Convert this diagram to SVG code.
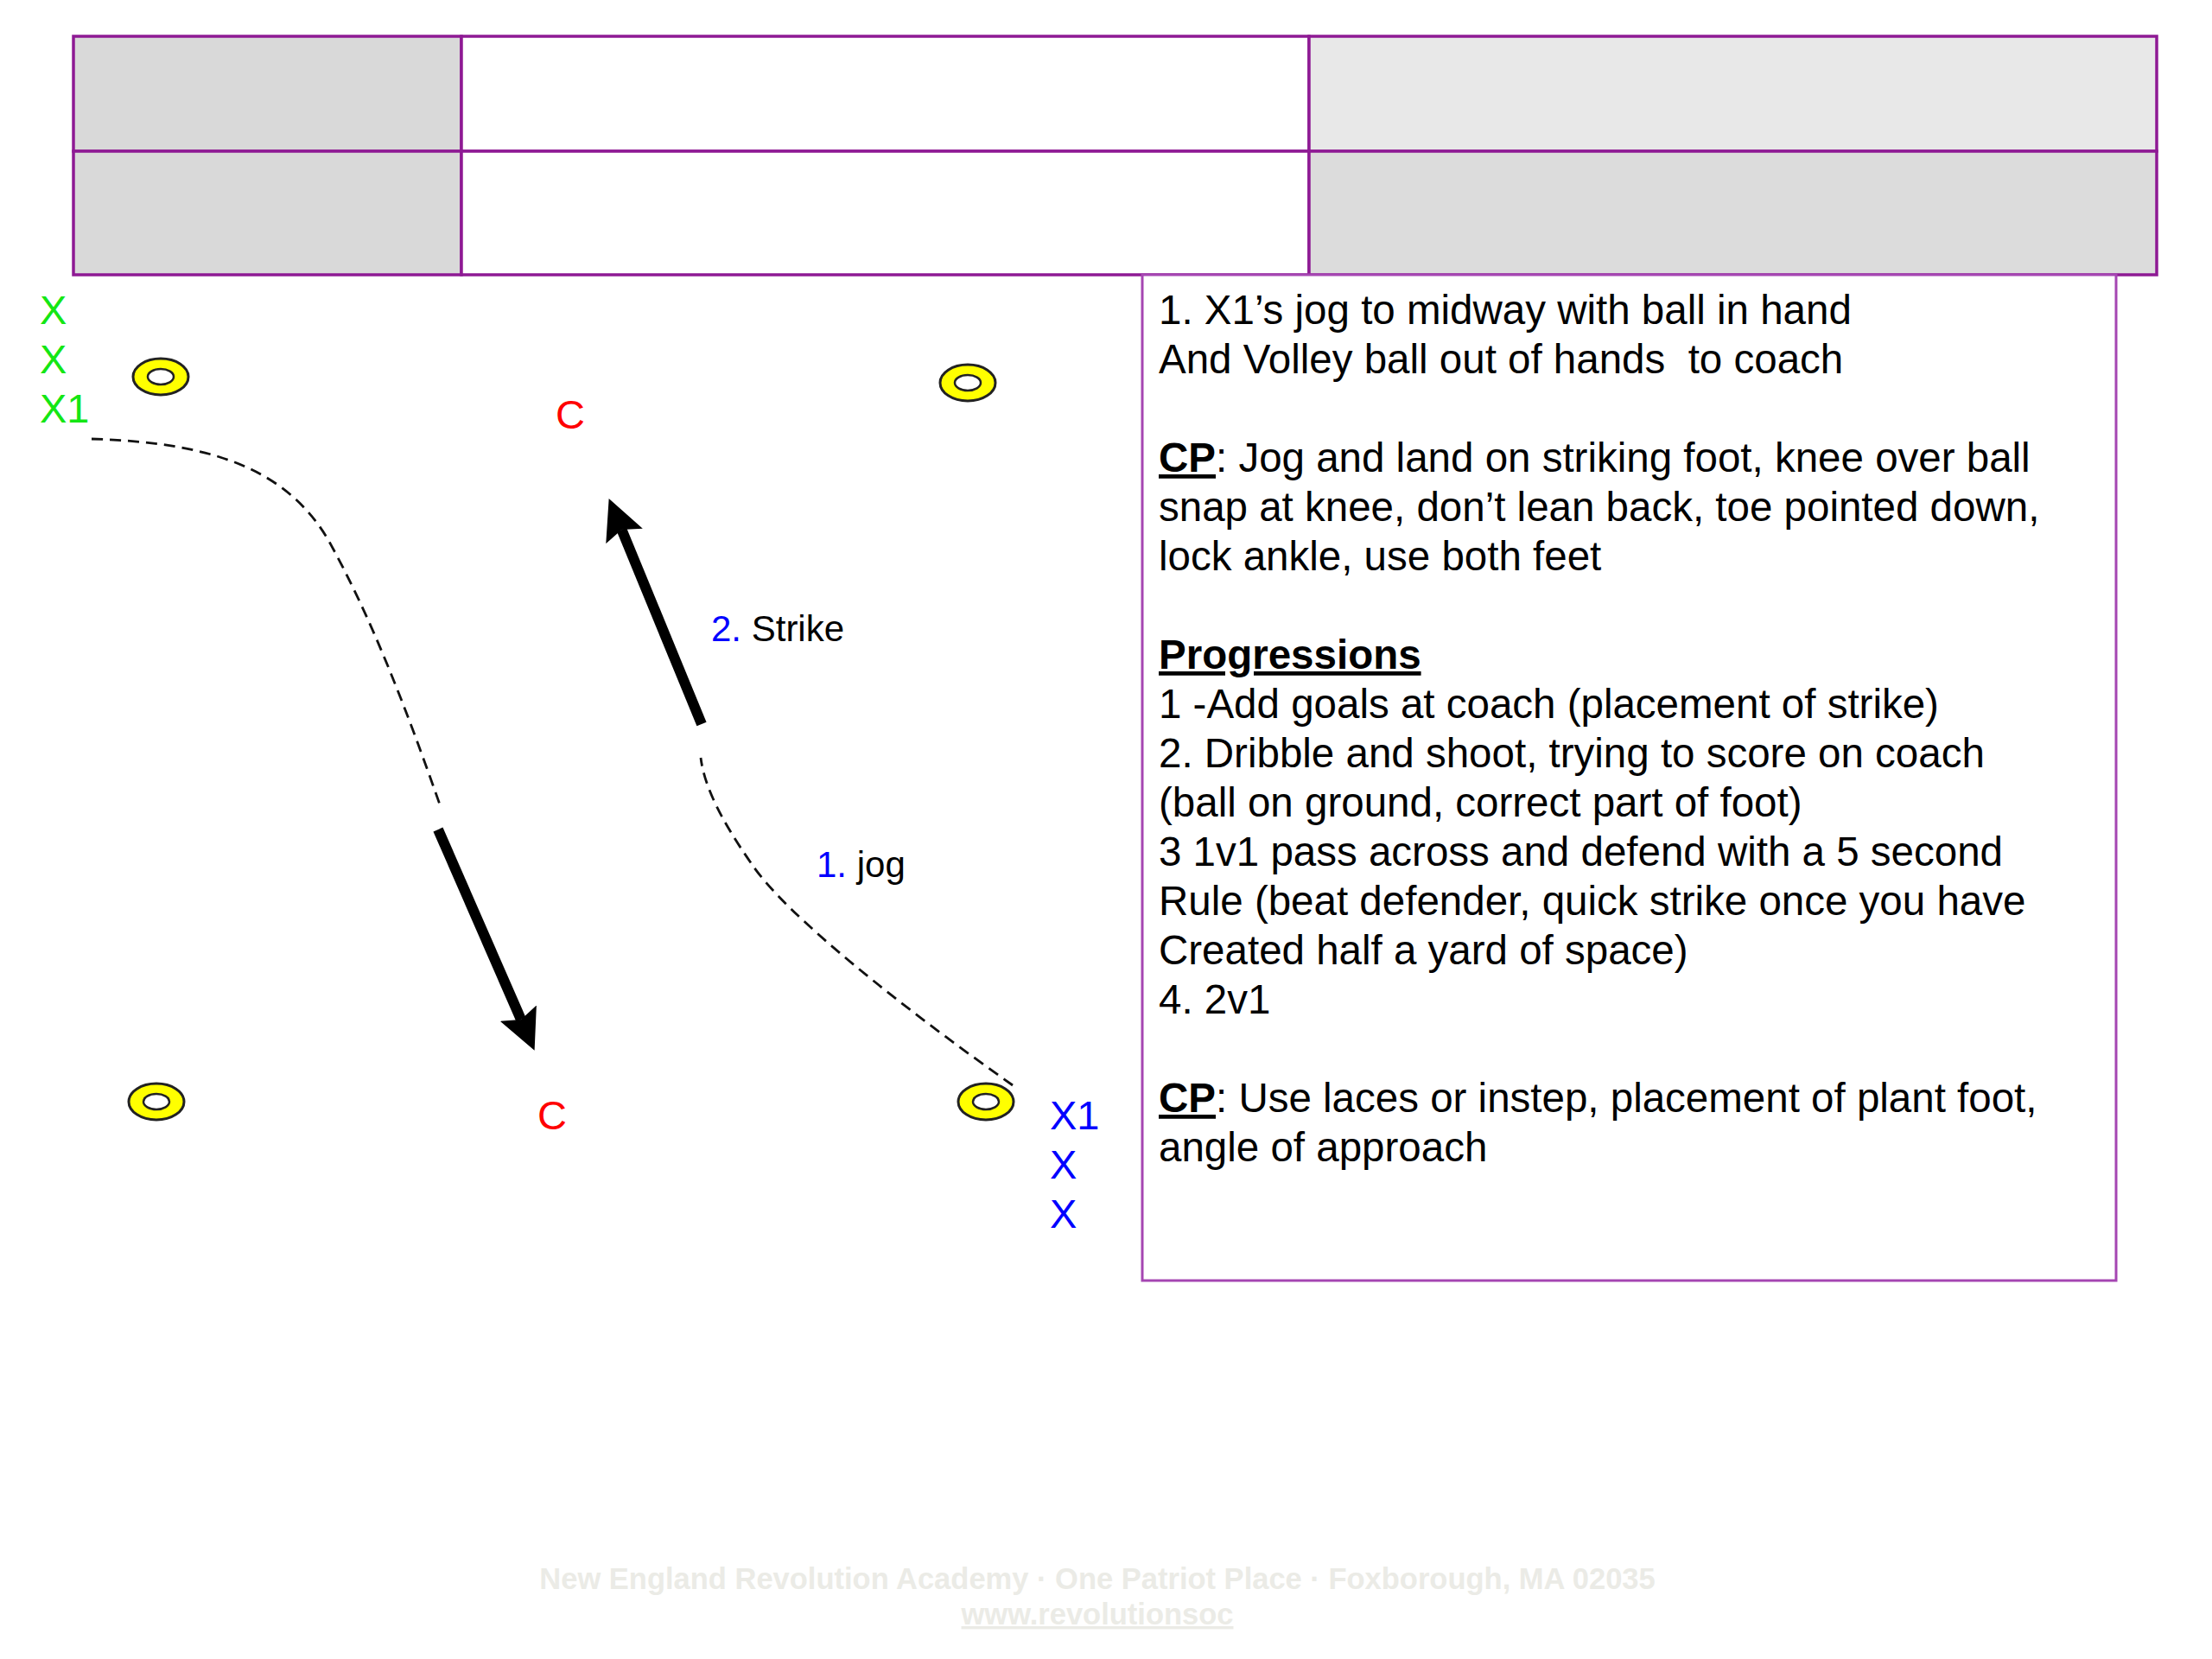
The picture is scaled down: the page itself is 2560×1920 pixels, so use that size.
<svg xmlns="http://www.w3.org/2000/svg" width="2560" height="1920" viewBox="0 0 2560 1920">
<style>
text{font-family:"Liberation Sans",Arial,Helvetica,sans-serif}
.cell{stroke:#8e1a94;stroke-width:3.5}
.body{font-size:47.5px;fill:#000}
.b{font-weight:bold;text-decoration:underline}
.pl{font-size:47px}
.green{fill:#14e614}
.blue{fill:#0000ff}
.red{fill:#ff0000}
.lbl{font-size:42px;fill:#000}
.cone{fill:#ffff00;stroke:#222;stroke-width:3}
.hole{fill:#fff;stroke:#222;stroke-width:2.5}
.dash{fill:none;stroke:#111;stroke-width:2.8;stroke-dasharray:13 8}
.thick{fill:none;stroke:#000;stroke-width:12;marker-end:url(#ah)}
.foot{font-size:34.5px;font-weight:bold;fill:#ebebe6}
</style>
<defs>
<marker id="ah" markerUnits="userSpaceOnUse" markerWidth="48" markerHeight="46" refX="8" refY="23" orient="auto">
<path d="M0,0 L47,23 L0,46 L8,23 z" fill="#000"/>
</marker>
</defs>
<rect width="2560" height="1920" fill="#fff"/>

<g id="header-table">
<rect class="cell" x="85" y="42" width="449" height="133" fill="#d9d9d9"/>
<rect class="cell" x="534" y="42" width="981" height="133" fill="#fff"/>
<rect class="cell" x="1515" y="42" width="981" height="133" fill="#e8e8e8"/>
<rect class="cell" x="85" y="175" width="449" height="143" fill="#d9d9d9"/>
<rect class="cell" x="534" y="175" width="981" height="143" fill="#fff"/>
<rect class="cell" x="1515" y="175" width="981" height="143" fill="#dcdcdc"/>
</g>

<g id="notes">
<rect x="1322" y="318" width="1127" height="1164" fill="#fff" stroke="#a546b2" stroke-width="3"/>
<text class="body" x="1341" y="375">1. X1’s jog to midway with ball in hand</text>
<text class="body" x="1341" y="432" xml:space="preserve">And Volley ball out of hands  to coach</text>
<text class="body" x="1341" y="546"><tspan class="b">CP</tspan>: Jog and land on striking foot, knee over ball</text>
<text class="body" x="1341" y="603">snap at knee, don’t lean back, toe pointed down,</text>
<text class="body" x="1341" y="660">lock ankle, use both feet</text>
<text class="body" x="1341" y="774"><tspan class="b">Progressions</tspan></text>
<text class="body" x="1341" y="831">1 -Add goals at coach (placement of strike)</text>
<text class="body" x="1341" y="888">2. Dribble and shoot, trying to score on coach</text>
<text class="body" x="1341" y="945">(ball on ground, correct part of foot)</text>
<text class="body" x="1341" y="1002">3 1v1 pass across and defend with a 5 second</text>
<text class="body" x="1341" y="1059">Rule (beat defender, quick strike once you have</text>
<text class="body" x="1341" y="1116">Created half a yard of space)</text>
<text class="body" x="1341" y="1173">4. 2v1</text>
<text class="body" x="1341" y="1287"><tspan class="b">CP</tspan>: Use laces or instep, placement of plant foot,</text>
<text class="body" x="1341" y="1344">angle of approach</text>
</g>

<g id="cones">
<g id="cone-tl"><ellipse class="cone" cx="186" cy="436" rx="32" ry="21"/><ellipse class="hole" cx="186" cy="436" rx="15" ry="9"/></g>
<g id="cone-tr"><ellipse class="cone" cx="1120" cy="443" rx="32" ry="21"/><ellipse class="hole" cx="1120" cy="443" rx="15" ry="9"/></g>
<g id="cone-bl"><ellipse class="cone" cx="181" cy="1275" rx="32" ry="21"/><ellipse class="hole" cx="181" cy="1275" rx="15" ry="9"/></g>
<g id="cone-br"><ellipse class="cone" cx="1141" cy="1275" rx="32" ry="21"/><ellipse class="hole" cx="1141" cy="1275" rx="15" ry="9"/></g>
</g>

<g id="players-green">
<text class="pl green" x="46" y="375">X</text>
<text class="pl green" x="46" y="432">X</text>
<text class="pl green" x="46" y="489">X1</text>
</g>
<g id="players-blue">
<text class="pl blue" x="1215" y="1307">X1</text>
<text class="pl blue" x="1215" y="1364">X</text>
<text class="pl blue" x="1215" y="1421">X</text>
</g>
<g id="coach-top"><text class="pl red" x="643" y="496">C</text></g>
<g id="coach-bottom"><text class="pl red" x="622" y="1307">C</text></g>

<g id="connectors">
<path class="dash" d="M106,508 C240,512 330,540 380,625 C430,715 470,820 510,934"/>
<path class="thick" d="M507,960 L603,1180"/>
<path class="dash" d="M1172,1256 C1050,1170 910,1060 870,1000 C835,950 815,910 811,877"/>
<path class="thick" d="M812,838 L719.5,613"/>
</g>

<g id="labels">
<text class="lbl" x="823" y="742"><tspan class="blue">2.</tspan> Strike</text>
<text class="lbl" x="945" y="1015"><tspan class="blue">1.</tspan> jog</text>
</g>

<g id="footer">
<text class="foot" x="1270" y="1839" text-anchor="middle">New England Revolution Academy · One Patriot Place · Foxborough, MA 02035</text>
<text class="foot" x="1270" y="1880" text-anchor="middle" text-decoration="underline">www.revolutionsoc</text>
</g>
</svg>
